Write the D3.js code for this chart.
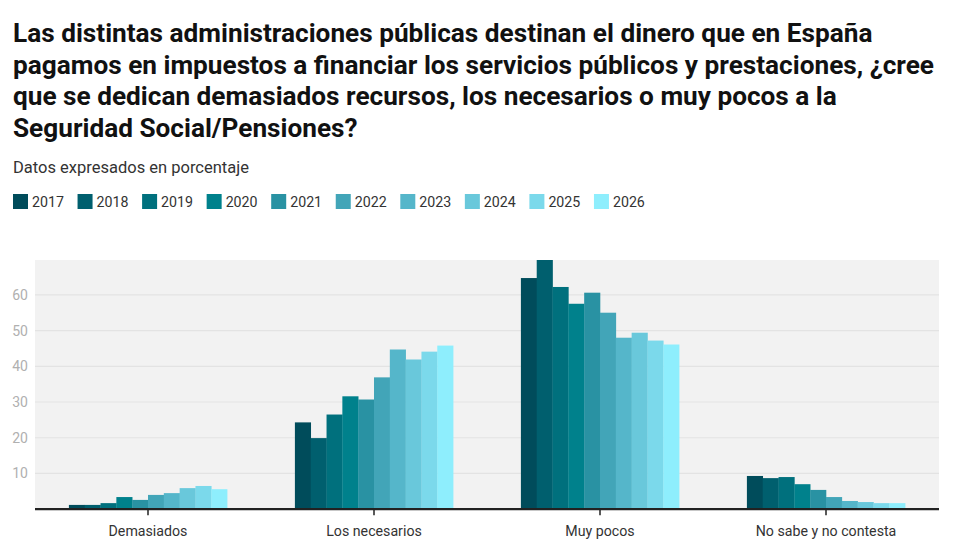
<!DOCTYPE html>
<html><head><meta charset="utf-8">
<script src="https://cdn.jsdelivr.net/npm/d3@7"></script>
<style>
body{margin:0;background:#fff;font-family:Roboto,"Noto Sans",sans-serif;}
</style></head>
<body><svg id="chart" width="958" height="555"></svg>
<script>
const categories = ["Demasiados","Los necesarios","Muy pocos","No sabe y no contesta"];
const years = ["2017","2018","2019","2020","2021","2022","2023","2024","2025","2026"];
const colors = ["#004c5b","#005f6e","#00707d","#00818c","#2992a3","#42a5b8","#55b6ca","#69c8db","#7bd9eb","#8eeefd"];
const demasiados   = [1.2,1.2,1.7,3.4,2.6,4.0,4.5,5.9,6.5,5.6];
const necesarios   = [24.3,19.9,26.5,31.6,30.7,36.9,44.7,41.9,44.1,45.8];
const muyPocos     = [64.7,69.75,62.2,57.5,60.6,55.0,48.0,49.4,47.2,46.1];
const noSabe       = [9.3,8.7,9.0,7.0,5.4,3.4,2.3,2.0,1.7,1.7];
const yTicks = [10,20,30,40,50,60];
const titleLines = [
 "Las distintas administraciones públicas destinan el dinero que en España",
 "pagamos en impuestos a financiar los servicios públicos y prestaciones, ¿cree",
 "que se dedican demasiados recursos, los necesarios o muy pocos a la",
 "Seguridad Social/Pensiones?"
];
const subtitle = "Datos expresados en porcentaje";

(function(){
const series = [demasiados, necesarios, muyPocos, noSabe];
const svg = d3.select("#chart");

svg.append("g").selectAll("text").data(titleLines).join("text")
  .attr("x",13).attr("y",(d,i)=>42+i*31.6)
  .attr("font-size",26.2).attr("font-weight",700).attr("fill","#111")
  .text(d=>d);
svg.append("text").attr("x",13).attr("y",173).attr("font-size",16.5).attr("fill","#333").text(subtitle);

const lg = svg.append("g").selectAll("g").data(years).join("g")
  .attr("transform",(d,i)=>`translate(${13+i*64.55},194)`);
lg.append("rect").attr("width",15).attr("height",15).attr("fill",(d,i)=>colors[i]);
lg.append("text").attr("x",19).attr("y",12.5).attr("font-size",14.2).attr("fill","#333").text(d=>d);

const pL=35,pR=939,pT=260,pB=509.2;
const allVals = series.flat();
const y = d3.scaleLinear().domain([0,d3.max(allVals)]).range([pB,pT]);
const x0 = d3.scaleBand().domain(categories).range([pL,pR]).padding(0);
const bw = x0.bandwidth();
const x1 = d3.scaleBand().domain(years).range([bw*0.15,bw*0.85]).padding(0);

svg.append("rect").attr("x",pL).attr("y",pT).attr("width",pR-pL).attr("height",pB-pT).attr("fill","#f2f2f2");
svg.append("g").selectAll("line").data(yTicks).join("line")
  .attr("x1",pL).attr("x2",pR).attr("y1",d=>y(d)).attr("y2",d=>y(d))
  .attr("stroke","#e3e3e3").attr("stroke-width",1.2);
svg.append("g").selectAll("text").data(yTicks).join("text")
  .attr("x",28).attr("y",d=>y(d)+5).attr("text-anchor","end")
  .attr("font-size",14).attr("fill","#b0b0b0").text(d=>d);

const groups = svg.append("g").selectAll("g").data(categories).join("g")
  .attr("transform",d=>`translate(${x0(d)},0)`);
groups.selectAll("rect").data((d,i)=>series[i].map((v,j)=>({year:years[j],v,j}))).join("rect")
  .attr("x",d=>x1(d.year)).attr("width",x1.bandwidth()+0.3)
  .attr("y",d=>y(d.v)).attr("height",d=>pB-y(d.v))
  .attr("fill",d=>colors[d.j]);

svg.append("line").attr("x1",pL).attr("x2",pR).attr("y1",pB).attr("y2",pB).attr("stroke","#222").attr("stroke-width",2.2);
svg.append("g").selectAll("line").data(categories).join("line")
  .attr("x1",d=>x0(d)+bw/2).attr("x2",d=>x0(d)+bw/2).attr("y1",pB).attr("y2",pB+6)
  .attr("stroke","#222").attr("stroke-width",1.5);
svg.append("g").selectAll("text").data(categories).join("text")
  .attr("x",d=>x0(d)+bw/2).attr("y",536).attr("text-anchor","middle")
  .attr("font-size",14.2).attr("fill","#333").text(d=>d);
})();
</script></body></html>
